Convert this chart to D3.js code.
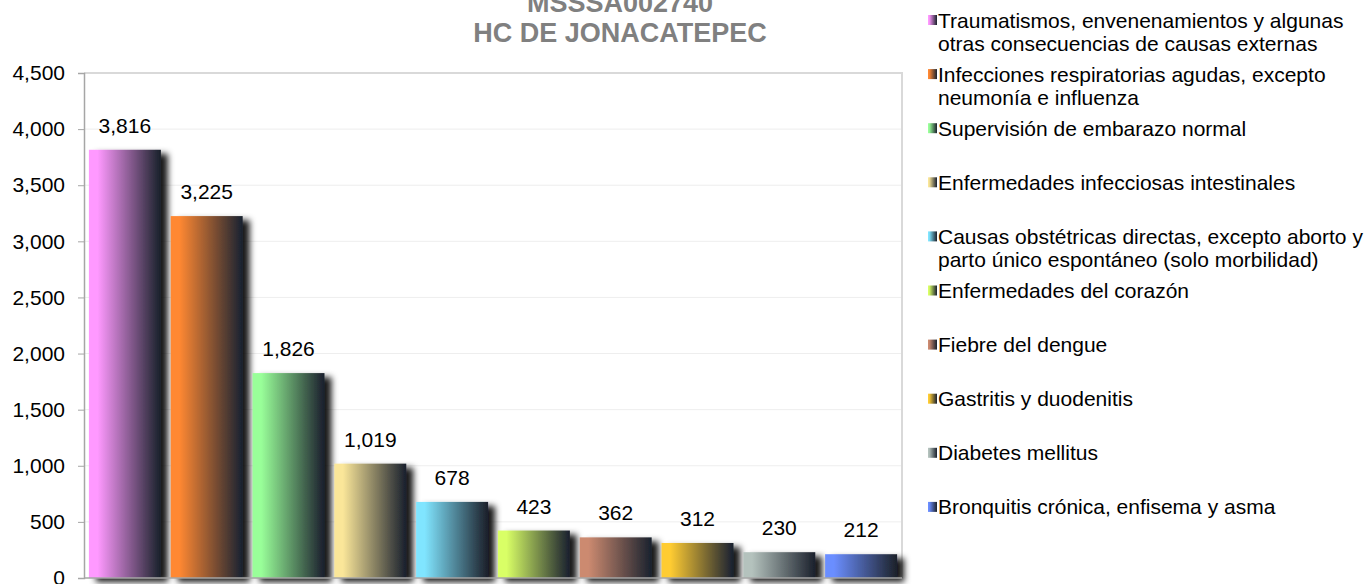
<!DOCTYPE html>
<html>
<head>
<meta charset="utf-8">
<script src="https://cdnjs.cloudflare.com/ajax/libs/d3/7.8.5/d3.min.js"></script>
<style>
  body { margin: 0; background: #fff; }
  svg { font-family: "Liberation Sans", Arial, sans-serif; }
</style>
</head>
<body>
<svg id="chart"></svg>
<script>
var categories = [
    "Traumatismos, envenenamientos y algunas otras consecuencias de causas externas",
    "Infecciones respiratorias agudas, excepto neumonía e influenza",
    "Supervisión de embarazo normal",
    "Enfermedades infecciosas intestinales",
    "Causas obstétricas directas, excepto aborto y parto único espontáneo (solo morbilidad)",
    "Enfermedades del corazón",
    "Fiebre del dengue",
    "Gastritis y duodenitis",
    "Diabetes mellitus",
    "Bronquitis crónica, enfisema y asma"
]
var values = [3816, 3225, 1826, 1019, 678, 423, 362, 312, 230, 212]
var colors = ["#ff99ff", "#ff8833", "#99ff99", "#fae699", "#80e5ff",
              "#d9ff66", "#cc8a70", "#ffcc33", "#b4c2bd", "#6b8eff"]
var yTicks = [0, 500, 1000, 1500, 2000, 2500, 3000, 3500, 4000, 4500]
var titleLines = ["MSSSA002740", "HC DE JONACATEPEC"]

var width = 1368, height = 584
var plot = {left: 84, right: 902, top: 73, bottom: 578}

var svg = d3.select('#chart')
            .attr('width', width)
            .attr('height', height)

var defs = svg.append('defs')

colors.forEach((c, i) => {
    var g = defs.append('linearGradient')
                .attr('id', 'grad' + i)
                .attr('x1', 0).attr('x2', 1).attr('y1', 0).attr('y2', 0)
    g.append('stop').attr('offset', 0).attr('stop-color', c)
    g.append('stop').attr('offset', 0.12).attr('stop-color', c)
    g.append('stop').attr('offset', 0.97).attr('stop-color', '#1f2530')
    g.append('stop').attr('offset', 1).attr('stop-color', '#1c222c')
})

var shadow = defs.append('filter')
                .attr('id', 'shadow')
                .attr('x', '-20%').attr('y', '-20%')
                .attr('width', '150%').attr('height', '150%')
shadow.append('feDropShadow')
    .attr('dx', 7).attr('dy', 4)
    .attr('stdDeviation', 3)
    .attr('flood-color', '#000')
    .attr('flood-opacity', 0.9)

var x = d3.scaleBand()
            .domain(categories)
            .range([plot.left, plot.right])
            .paddingInner(0.12)
            .paddingOuter(0.06)

var y = d3.scaleLinear()
            .domain([0, 4500])
            .range([plot.bottom, plot.top])

// gridlines
svg.append('g')
    .selectAll('line')
    .data(yTicks.filter(d => d > 0))
    .enter()
    .append('line')
        .attr('x1', plot.left)
        .attr('x2', plot.right)
        .attr('y1', d => y(d))
        .attr('y2', d => y(d))
        .attr('stroke', d => d === 4500 ? '#d9d9d9' : '#eeeeee')
        .attr('stroke-width', d => d === 4500 ? 2 : 1)

// plot border (right side)
svg.append('line')
    .attr('x1', plot.right).attr('x2', plot.right)
    .attr('y1', plot.top - 1).attr('y2', plot.bottom)
    .attr('stroke', '#d9d9d9')
    .attr('stroke-width', 2)

// bars
svg.append('g')
    .selectAll('rect')
    .data(values)
    .enter()
    .append('rect')
        .attr('x', (d, i) => x(categories[i]))
        .attr('y', d => y(d))
        .attr('width', x.bandwidth())
        .attr('height', d => y(0) - y(d))
        .attr('fill', (d, i) => `url(#grad${i})`)
        .attr('filter', 'url(#shadow)')

// value labels
svg.append('g')
    .selectAll('text')
    .data(values)
    .enter()
    .append('text')
        .attr('x', (d, i) => x(categories[i]) + x.bandwidth() / 2)
        .attr('y', d => y(d) - 17)
        .attr('text-anchor', 'middle')
        .style('font-size', '21px')
        .attr('fill', '#000')
        .text(d => d3.format(',')(d))

// y axis
var yAxis = svg.append('g')
    .attr('transform', `translate(${plot.left}, 0)`)
    .call(d3.axisLeft(y).tickValues(yTicks).tickFormat(d3.format(',')).tickSize(6).tickPadding(13))
yAxis.select('.domain').attr('stroke', '#a6a6a6').attr('stroke-width', 1.5)
yAxis.selectAll('.tick line').attr('stroke', '#a6a6a6')
yAxis.selectAll('.tick text')
    .style('font-size', '21px')
    .style('font-family', '"Liberation Sans", Arial, sans-serif')
    .attr('fill', '#000')

// x axis line
svg.append('line')
    .attr('x1', plot.left).attr('x2', plot.right)
    .attr('y1', plot.bottom).attr('y2', plot.bottom)
    .attr('stroke', '#a6a6a6')
    .attr('stroke-width', 1.5)

// title
svg.append('text')
    .attr('x', 620)
    .attr('y', 12)
    .attr('text-anchor', 'middle')
    .style('font-size', '27px')
    .style('font-weight', 'bold')
    .attr('fill', '#808080')
    .selectAll('tspan')
    .data(titleLines)
    .enter()
    .append('tspan')
        .attr('x', 620)
        .attr('dy', (d, i) => i === 0 ? 0 : 30)
        .text(d => d)

// legend
var legend = svg.append('g').attr('transform', 'translate(928, 20)')
var legendStep = 54.1
var maxWidth = 440

categories.forEach((name, i) => {
    var item = legend.append('g').attr('transform', `translate(0, ${i * legendStep})`)
    item.append('rect')
        .attr('x', 0).attr('y', -5)
        .attr('width', 9).attr('height', 10)
        .attr('fill', `url(#grad${i})`)
    var text = item.append('text')
        .attr('x', 10)
        .attr('y', 0)
        .style('font-size', '21px')
        .attr('fill', '#000')
    // wrap
    var words = name.split(' ')
    var line = []
    var tspan = text.append('tspan').attr('x', 10).attr('dy', '0.36em')
    words.forEach(w => {
        line.push(w)
        tspan.text(line.join(' '))
        if (tspan.node().getComputedTextLength() > maxWidth && line.length > 1) {
            line.pop()
            tspan.text(line.join(' '))
            line = [w]
            tspan = text.append('tspan').attr('x', 10).attr('dy', 23).text(w)
        }
    })
})
</script>
</body>
</html>
